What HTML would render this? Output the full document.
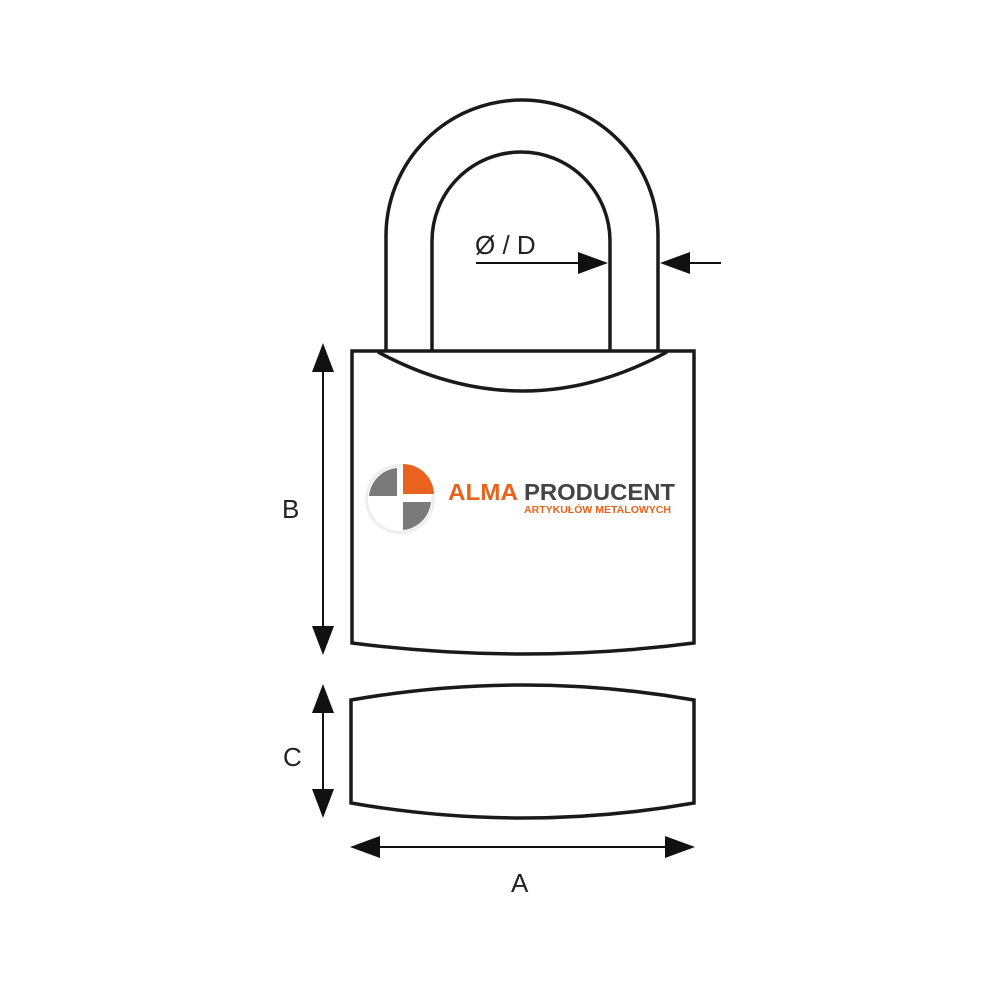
<!DOCTYPE html>
<html><head><style>body{margin:0;background:#fff}svg{display:block}</style></head><body>
<svg width="1000" height="1000" viewBox="0 0 1000 1000" xmlns="http://www.w3.org/2000/svg">
<g fill="none" stroke="#1a1a1a" stroke-width="3.5">
<path d="M386,351 L386,236 A136,136 0 0 1 658,236 L658,351"/>
<path d="M432,351 L432,241 A89,89 0 0 1 610,241 L610,351"/>
<path d="M352,351 L694,351 L694,643 Q523,665 352,643 Z"/>
<path d="M378,352 Q523,430 667,352"/>
<path d="M351,700 Q523,670 694,700 L694,803 Q523,833 351,803 Z"/>
</g>
<g fill="#111">
<path d="M323,343 L312,372 L334,372 Z"/><path d="M323,655 L312,626 L334,626 Z"/>
<path d="M323,684 L312,713 L334,713 Z"/><path d="M323,818 L312,789 L334,789 Z"/>
<path d="M350,847 L380,836 L380,858 Z"/><path d="M695,847 L665,836 L665,858 Z"/>
<path d="M608,263 L578,252 L578,274 Z"/><path d="M660,263 L690,252 L690,274 Z"/>
</g>
<g stroke="#111" stroke-width="2">
<line x1="323" y1="370" x2="323" y2="628"/>
<line x1="323" y1="711" x2="323" y2="791"/>
<line x1="378" y1="847" x2="667" y2="847"/>
<line x1="476" y1="263" x2="580" y2="263"/>
<line x1="688" y1="263" x2="721" y2="263"/>
</g>
<g font-family="Liberation Sans, sans-serif" font-size="26" fill="#222">
<text x="282" y="518">B</text><text x="283" y="766">C</text><text x="511" y="892">A</text>
<text x="475" y="254">Ø / D</text>
</g>
<g>
<circle cx="400" cy="499" r="35" fill="#eee"/>
<circle cx="400" cy="499" r="32" fill="#fff"/>
<path d="M397,496 L397,468 A31,31 0 0 0 369,496 Z" fill="#7a7a7a"/>
<path d="M403,502 L431,502 A31,31 0 0 1 403,530 Z" fill="#7a7a7a"/>
<path d="M369,502 L397,502 L397,530 A31,31 0 0 1 369,502 Z" fill="#fff"/>
<path d="M403,494 L403,464 A31,31 0 0 1 434,494 Z" fill="#e8641e"/>
<text x="448" y="500" font-family="Liberation Sans, sans-serif" font-weight="bold" font-size="23" fill="#e8641e" textLength="70" lengthAdjust="spacingAndGlyphs">ALMA</text>
<text x="524" y="500" font-family="Liberation Sans, sans-serif" font-weight="bold" font-size="23" fill="#444" textLength="151" lengthAdjust="spacingAndGlyphs">PRODUCENT</text>
<text x="524" y="513" font-family="Liberation Sans, sans-serif" font-weight="bold" font-size="10" fill="#e8641e" textLength="147" lengthAdjust="spacingAndGlyphs">ARTYKUŁÓW METALOWYCH</text>
</g>
</svg>
</body></html>
